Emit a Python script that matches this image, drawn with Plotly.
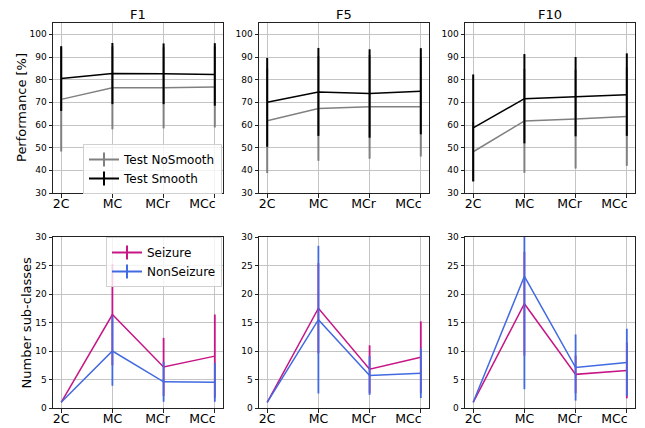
import plotly.graph_objects as go

categories = ["2C", "MC", "MCr", "MCc"]
panel_titles = ["F1", "F5", "F10"]

# Top row: performance [%] mean and std
nosmooth_mean = {"F1": [71.3, 76.4, 76.4, 76.8], "F5": [61.9, 67.3, 68.0, 68.0], "F10": [48.2, 61.8, 62.6, 63.7]}
nosmooth_std = {"F1": [23.0, 18.3, 17.9, 17.9], "F5": [23.1, 23.1, 22.9, 21.9], "F10": [13.0, 22.9, 21.8, 21.7]}
smooth_mean = {"F1": [80.5, 82.7, 82.6, 82.3], "F5": [70.0, 74.6, 73.9, 74.9], "F10": [58.7, 71.6, 72.5, 73.4]}
smooth_std = {"F1": [14.3, 13.5, 13.4, 13.8], "F5": [19.6, 19.4, 19.5, 19.0], "F10": [23.6, 19.7, 17.5, 18.2]}

# Bottom row: number of sub-classes mean and std
seizure_mean = {"F1": [1.0, 16.4, 7.2, 9.1], "F5": [1.0, 17.5, 6.8, 8.9], "F10": [1.0, 18.3, 5.9, 6.6]}
seizure_std = {"F1": [0.0, 8.9, 5.1, 7.3], "F5": [0.0, 7.9, 4.2, 6.3], "F10": [0.0, 9.1, 3.3, 4.9]}
nonseizure_mean = {"F1": [1.0, 10.0, 4.6, 4.5], "F5": [1.0, 15.5, 5.7, 6.1], "F10": [1.0, 23.1, 7.1, 8.0]}
nonseizure_std = {"F1": [0.0, 6.1, 3.5, 3.4], "F5": [0.0, 12.95, 3.4, 4.35], "F10": [0.0, 19.8, 5.8, 5.9]}

top_yticks = [30, 40, 50, 60, 70, 80, 90, 100]
bottom_yticks = [0, 5, 10, 15, 20, 25, 30]

W, H = 645, 428
OFF = 8  # page body margin offset
xdoms_px = [(53, 223), (259, 429), (465, 635)]
top_px = (23, 193)
bot_px = (237, 408)

def px2x(p):
    return (p - OFF) / W

def px2y(p):
    return 1 - (p - OFF) / H

GREY = "#808080"
BLACK = "#000000"
MAG = "#C71585"
BLUE = "#4169E1"
FONT = "DejaVu Sans"

xpos = list(range(len(categories)))
# in the reference the last two tick labels sit a little left of their ticks
label_shift = [0.0, 0.0, -0.12, -0.24]
label_pos = [p + s for p, s in zip(xpos, label_shift)]

fig = go.Figure()

def add_series(mean, std, color, xa, ya, lw=1.5, th=2):
    fig.add_trace(go.Scatter(
        x=xpos, y=mean, mode="lines", line=dict(color=color, width=lw),
        error_y=dict(type="data", array=std, visible=True, width=0, thickness=th, color=color),
        xaxis=xa, yaxis=ya, showlegend=False, hoverinfo="skip"))

for i, name in enumerate(panel_titles):
    xa_t = "x" if i == 0 else f"x{i+1}"
    ya_t = "y" if i == 0 else f"y{i+1}"
    xa_b = f"x{i+4}"
    ya_b = f"y{i+4}"
    add_series(nosmooth_mean[name], nosmooth_std[name], GREY, xa_t, ya_t)
    add_series(smooth_mean[name], smooth_std[name], BLACK, xa_t, ya_t)
    add_series(seizure_mean[name], seizure_std[name], MAG, xa_b, ya_b, th=1.8)
    add_series(nonseizure_mean[name], nonseizure_std[name], BLUE, xa_b, ya_b, th=1.8)

# empty traces so the label-only overlay axes exist
for n in range(1, 7):
    fig.add_trace(go.Scatter(x=[None], y=[None], mode="lines", xaxis=f"x{n+6}",
                             yaxis="y" if n == 1 else f"y{n}", showlegend=False, hoverinfo="skip"))

# legend-only traces (errorbar-style handles)
def legend_entry(label, color, legend, xa, ya):
    fig.add_trace(go.Scatter(
        x=[None], y=[None], mode="lines+markers", name=label,
        line=dict(color=color, width=2),
        marker=dict(symbol="line-ns-open", size=10, line=dict(color=color, width=2)),
        xaxis=xa, yaxis=ya, legend=legend, showlegend=True))

legend_entry("Test NoSmooth", GREY, "legend", "x", "y")
legend_entry("Test Smooth", BLACK, "legend", "x", "y")
legend_entry("Seizure", MAG, "legend2", "x4", "y4")
legend_entry("NonSeizure", BLUE, "legend2", "x4", "y4")

axis_common = dict(
    showline=True, linecolor="#222222", linewidth=1, mirror=True,
    ticks="outside", ticklen=3.5, tickwidth=1, tickcolor="#222222",
    showgrid=True, gridcolor="#c4c4c4", gridwidth=1, zeroline=False,
)

layout = dict(
    width=W, height=H, margin=dict(l=0, r=0, t=0, b=0, autoexpand=False),
    paper_bgcolor="white", plot_bgcolor="white",
    font=dict(family=FONT, color="black"),
    showlegend=True,
)

XR = [-0.16, 3.16]
for i in range(3):
    xd = [px2x(xdoms_px[i][0]), px2x(xdoms_px[i][1])]
    for row in range(2):
        n = i + 1 + 3 * row
        xk = "xaxis" if n == 1 else f"xaxis{n}"
        yk = "yaxis" if n == 1 else f"yaxis{n}"
        xref = "x" if n == 1 else f"x{n}"
        yref = "y" if n == 1 else f"y{n}"
        ypx = top_px if row == 0 else bot_px
        yd = [px2y(ypx[1]), px2y(ypx[0])]
        layout[xk] = dict(axis_common, domain=xd, anchor=yref, range=XR,
                          tickmode="array", tickvals=xpos, showticklabels=False)
        layout[f"xaxis{n+6}"] = dict(
            overlaying=xref, anchor=yref, range=XR, side="bottom",
            tickmode="array", tickvals=label_pos, ticktext=categories,
            ticks="", showline=False, showgrid=False, zeroline=False,
            ticklabelstandoff=1,
            tickfont=dict(size=12.5, family=FONT, color="black"))
        if row == 0:
            yr, yt = [30, 105], top_yticks
        else:
            yr, yt = [0, 30], bottom_yticks
        layout[yk] = dict(axis_common, domain=yd, anchor=xref, range=yr,
                          tickmode="array", tickvals=yt, ticktext=[str(v) for v in yt],
                          tickfont=dict(size=9, family=FONT, color="black"))

layout["legend"] = dict(
    x=px2x(83), y=px2y(144), xanchor="left", yanchor="top",
    bgcolor="rgba(255,255,255,0.8)", bordercolor="#d0d0d0", borderwidth=1,
    font=dict(size=12, family=FONT, color="black"), tracegroupgap=0,
)
layout["legend2"] = dict(
    x=px2x(106), y=px2y(237), xanchor="left", yanchor="top",
    bgcolor="rgba(255,255,255,0.8)", bordercolor="#d0d0d0", borderwidth=1,
    font=dict(size=12, family=FONT, color="black"), tracegroupgap=0,
)

annotations = []
for i, name in enumerate(panel_titles):
    cx = (xdoms_px[i][0] + xdoms_px[i][1]) / 2
    annotations.append(dict(text=name, x=px2x(cx), y=px2y(14.5), xref="paper", yref="paper",
                            xanchor="center", yanchor="middle", showarrow=False,
                            font=dict(size=13, family=FONT, color="black")))
annotations.append(dict(text="Performance [%]", x=px2x(21), y=px2y((top_px[0] + top_px[1]) / 2),
                        xref="paper", yref="paper", textangle=-90, showarrow=False,
                        xanchor="center", yanchor="middle", font=dict(size=13, family=FONT, color="black")))
annotations.append(dict(text="Number sub-classes", x=px2x(26), y=px2y((bot_px[0] + bot_px[1]) / 2),
                        xref="paper", yref="paper", textangle=-90, showarrow=False,
                        xanchor="center", yanchor="middle", font=dict(size=13, family=FONT, color="black")))
layout["annotations"] = annotations

fig.update_layout(**layout)
fig.write_html("out.html")
